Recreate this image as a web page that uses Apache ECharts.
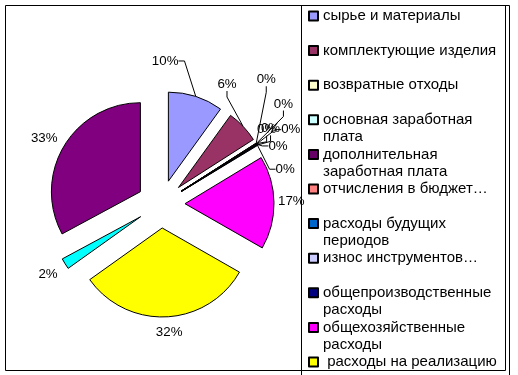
<!DOCTYPE html>
<html>
<head>
<meta charset="utf-8">
<script src="https://cdn.jsdelivr.net/npm/echarts@6/dist/echarts.min.js"></script>
<style>html,body{margin:0;padding:0;background:#fff}#c{width:518px;height:375px}</style>
</head>
<body>
<div id="c"></div>
<script>
const categories = [
  'сырье и материалы',
  'комплектующие изделия',
  'возвратные отходы',
  'основная заработная плата',
  'дополнительная заработная плата',
  'отчисления в бюджет',
  'расходы будущих периодов',
  'износ инструментов',
  'общепроизводственные расходы',
  'общехозяйственные расходы',
  'расходы на реализацию',
  'категория 12',
  'категория 13'
];
const values = [10, 6, 0.03, 0.05, 0.04, 0.06, 0.03, 0.05, 0.14, 17, 32, 2, 33];
const colors = ['#9999FF','#993366','#FFFFCC','#CCFFFF','#660066','#FF8080','#0066CC','#CCCCFF','#000080','#FF00FF','#FFFF00','#00FFFF','#800080'];
const legendLabels = [
  'сырье и материалы',
  'комплектующие изделия',
  'возвратные отходы',
  'основная заработная\nплата',
  'дополнительная\nзаработная плата',
  'отчисления в бюджет…',
  'расходы будущих\nпериодов',
  'износ инструментов…',
  'общепроизводственные\nрасходы',
  'общехозяйственные\nрасходы',
  ' расходы на реализацию'
];
// label nudges (px) relative to the library's own outside-label placement
const labelNudgeX = [-58, -44, -19, -2, -19, 5, -8, -1, -16, -5, -16, 1, 2];
const labelNudgeY = [-26, -35, -58, -34, -9, -9, 7, 30, -11, -1, 11, 8, -6];
const noLine = [9, 10, 11, 12];

const LH = 17.5;
const R = 89, OFFSET = 24;
const chart = echarts.init(document.getElementById('c'));

const pieData = categories.map((name, i) => ({
  name: name,
  value: values[i],
  selected: true,
  itemStyle: { color: colors[i] }
}));
const labelData = categories.map((name, i) => ({
  name: name,
  value: values[i],
  labelLine: noLine.indexOf(i) >= 0 ? { show: false, length: 4, length2: 0 } : { show: true, length: 10, length2: 6 }
}));
const legendData = legendLabels.map((t, i) => {
  const two = t.indexOf('\n') >= 0;
  return two ? { name: categories[i] } : { name: categories[i], textStyle: { padding: [LH, 0, LH, 0] } };
});
chart.setOption({
  animation: false,
  backgroundColor: '#fff',
  textStyle: { fontFamily: 'Liberation Sans, Arial, sans-serif' },
  legend: {
    orient: 'vertical',
    left: 308,
    top: -10.25,
    height: 700,
    padding: 0,
    itemWidth: 9,
    itemHeight: 9,
    itemGap: -17.9,
    selectedMode: false,
    icon: 'rect',
    data: legendData,
    formatter: function (name) {
      const t = legendLabels[categories.indexOf(name)];
      return t.indexOf('\n') >= 0 ? '\n' + t : t;
    },
    textStyle: { fontSize: 15, lineHeight: LH, color: '#000', fontFamily: 'Liberation Sans, Arial, sans-serif', backgroundColor: 'rgba(0,0,0,0)' }
  },
  graphic: [
    { type: 'rect', shape: { x: 5.5, y: 5.5, width: 500, height: 365 }, style: { fill: 'none', stroke: '#000', lineWidth: 1 }, silent: true },
    { type: 'rect', shape: { x: 301.5, y: 5.5, width: 208, height: 390 }, style: { fill: 'none', stroke: '#000', lineWidth: 1 }, silent: true }
  ],
  series: [{
    type: 'pie',
    center: [161, 204],
    radius: R,
    startAngle: 90,
    clockwise: true,
    selectedMode: 'multiple',
    selectedOffset: OFFSET,
    itemStyle: { borderColor: '#000', borderWidth: 1 },
    select: { itemStyle: { borderColor: '#000', borderWidth: 1 } },
    emphasis: { disabled: true },
    label: { show: false },
    labelLine: { show: false },
    data: pieData
  }, {
    // invisible twin pie reaching the exploded outer edge, carrying the percentage labels
    type: 'pie',
    center: [161, 204],
    radius: R + OFFSET,
    startAngle: 90,
    clockwise: true,
    silent: true,
    avoidLabelOverlap: false,
    itemStyle: { color: 'rgba(0,0,0,0)', borderWidth: 0 },
    emphasis: { disabled: true },
    label: {
      show: true,
      position: 'outside',
      fontSize: 13.3,
      color: '#000',
      fontFamily: 'Liberation Sans, Arial, sans-serif',
      formatter: function (p) { return Math.round(p.percent) + '%'; }
    },
    labelLine: { lineStyle: { color: '#000', width: 1 } },
    labelLayout: function (p) {
      const r = p.labelRect;
      return {
        x: r.x + r.width / 2 + labelNudgeX[p.dataIndex],
        y: r.y + r.height / 2 + labelNudgeY[p.dataIndex],
        align: 'center',
        verticalAlign: 'middle'
      };
    },
    data: labelData
  }]
});
</script>
</body>
</html>
